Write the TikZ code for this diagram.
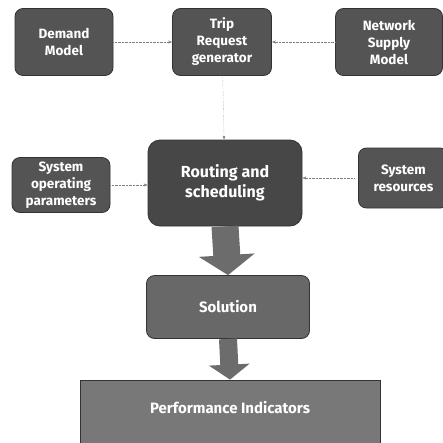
\documentclass[tikz,border=0pt]{standalone}
\usepackage{fontspec}
\setmainfont{Fira Sans}
\usetikzlibrary{arrows.meta,positioning}
\definecolor{boxdark}{RGB}{84,84,84}
\definecolor{boxmid}{RGB}{104,104,104}
\definecolor{boxlight}{RGB}{120,120,120}
\definecolor{flowgray}{RGB}{108,108,108}

\begin{document}
\begin{tikzpicture}[
    x=1pt, y=-1pt,
    block/.style={rectangle, rounded corners=8pt, draw=black!80, thick, fill=boxdark, text=white, font=\bfseries\fontsize{13.5}{17}\selectfont, align=center, inner sep=2pt},
    link/.style={-{Stealth[length=4pt,width=3pt]}, densely dotted, gray, thin},
    flow/.style={-{Triangle[length=20pt,width=55pt]}, line width=27pt, draw=flowgray}
]
    \useasboundingbox (0,0) rectangle (443,442);
    \clip (0,0) rectangle (443,442);

    \node[block, minimum width=98pt, minimum height=67pt] (demand) at (64,42) {Demand\\Model};
    \node[block, minimum width=99pt, minimum height=67pt] (trip) at (222,42) {Trip\\Request\\generator};
    \node[block, minimum width=107pt, minimum height=67pt] (network) at (389,42) {Network\\Supply\\Model};

    \node[block, fill=black!72, minimum width=154pt, minimum height=86pt, rounded corners=12pt, font=\bfseries\fontsize{16}{20}\selectfont] (routing) at (225,183) {Routing and\\scheduling};
    \node[block, minimum width=98pt, minimum height=55pt] (sysop) at (61,185) {System\\operating\\parameters};
    \node[block, minimum width=90pt, minimum height=60pt, anchor=west] (sysres) at (358,178) {System\\resources};

    \node[block, fill=boxmid, minimum width=163pt, minimum height=63pt, font=\bfseries\fontsize{15}{18}\selectfont] (solution) at (228,307) {Solution};
    \node[block, fill=boxlight, rounded corners=0pt, minimum width=300pt, minimum height=80pt, font=\bfseries\fontsize{15}{19}\selectfont, text depth=26pt] (perf) at (230,420) {Performance Indicators};

    % dotted inputs
    \draw[link] (demand) -- (trip);
    \draw[link] (network) -- (trip);
    \draw[link] (trip) -- (routing);
    \draw[link] (sysop.east) -- (sysop.east -| routing.west);
    \draw[link, shorten <=4pt] (sysres.west) -- (sysres.west -| routing.east);

    % main flow
    \draw[flow] (routing.south) -- (solution.north);
    \draw[flow, line width=18pt, -{Triangle[length=15pt,width=40pt]}] (solution.south) -- (perf.north);
\end{tikzpicture}
\end{document}
